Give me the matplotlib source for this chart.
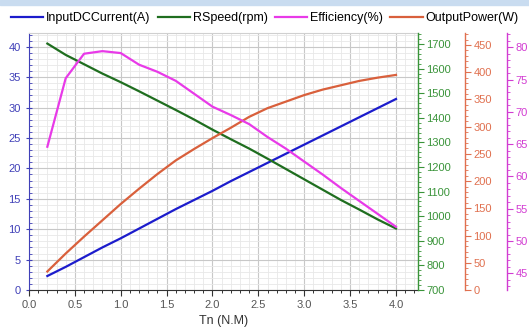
import numpy as np
import matplotlib
matplotlib.use("Agg")
import matplotlib.pyplot as plt
from matplotlib.ticker import MultipleLocator, FormatStrFormatter
from matplotlib.patches import Rectangle

plt.rcParams['font.family'] = ['Liberation Sans', 'DejaVu Sans']

# data
torque = [0.2, 0.4, 0.6, 0.8, 1.0, 1.2, 1.4, 1.6, 1.8, 2.0,
          2.2, 2.4, 2.6, 2.8, 3.0, 3.2, 3.4, 3.6, 3.8, 4.0]
current = [2.3, 3.8, 5.4, 7.0, 8.5, 10.1, 11.7, 13.3, 14.8, 16.3,
           17.9, 19.4, 20.9, 22.4, 23.9, 25.4, 26.9, 28.4, 29.9, 31.4]
speed = [1702, 1656, 1618, 1580, 1545, 1508, 1470, 1432, 1393, 1352,
         1313, 1275, 1234, 1192, 1150, 1108, 1066, 1027, 987, 950]
efficiency = [64.6, 75.2, 79.0, 79.4, 79.1, 77.3, 76.2, 74.8, 72.8, 70.8,
              69.5, 68.1, 66.1, 64.3, 62.3, 60.3, 58.2, 56.2, 54.2, 52.2]
power = [34, 67, 98, 128, 158, 186, 213, 238, 259, 279,
         298, 318, 334, 346, 358, 368, 376, 384, 390, 395]

c_blue, c_green, c_mag, c_orange = '#1c1ccc', '#1f6e1f', '#e83ae8', '#d9603c'
t_blue, t_green, t_mag, t_orange = '#4040b8', '#3a943a', '#d23cd2', '#e0704f'

fig = plt.figure(figsize=(5.29, 3.29), dpi=100)
fig.patches.append(Rectangle((0, 1 - 5 / 329), 1, 5 / 329, transform=fig.transFigure,
                             color='#c9dcf0', zorder=0))
ax = fig.add_axes([29 / 529, 39 / 329, 389 / 529, 257 / 329])
ax_g = ax.twinx()
ax_o = ax.twinx()
ax_m = ax.twinx()
ax_o.spines['right'].set_position(('axes', 436 / 389))
ax_m.spines['right'].set_position(('axes', 478 / 389))

l1, = ax.plot(torque, current, color=c_blue, lw=1.6, label='InputDCCurrent(A)')
l2, = ax_g.plot(torque, speed, color=c_green, lw=1.6, label='RSpeed(rpm)')
l3, = ax_m.plot(torque, efficiency, color=c_mag, lw=1.6, label='Efficiency(%)')
l4, = ax_o.plot(torque, power, color=c_orange, lw=1.6, label='OutputPower(W)')

ax.set_xlim(0, 4.24)
ax.set_ylim(0, 42.25)
ax_g.set_ylim(700, 1745)
ax_o.set_ylim(0, 472)
ax_m.set_ylim(42.41, 82.21)

# grid
ax.xaxis.set_major_locator(MultipleLocator(0.5))
ax.xaxis.set_minor_locator(MultipleLocator(0.1))
ax.xaxis.set_major_formatter(FormatStrFormatter('%.1f'))
ax.yaxis.set_major_locator(MultipleLocator(5))
ax.yaxis.set_minor_locator(MultipleLocator(1))
ax.grid(which='major', color='#c8c8c8', lw=0.8)
ax.grid(which='minor', color='#e8e8e8', lw=0.6)
ax.set_axisbelow(True)

for a in (ax_g, ax_o, ax_m):
    a.spines['left'].set_visible(False)
    a.spines['top'].set_visible(False)
    a.spines['bottom'].set_visible(False)
ax.spines['top'].set_color('#d0d0d0')
ax.spines['right'].set_visible(False)
ax.spines['left'].set_color(t_blue)
ax.spines['bottom'].set_color('#333333')

ax.tick_params(axis='x', which='major', length=4, width=0.8, colors='#333333',
               labelcolor='#555555', labelsize=8)
ax.tick_params(axis='x', which='minor', length=2.5, width=0.7, colors='#333333')
ax.tick_params(axis='y', which='major', direction='inout', length=5, colors=t_blue,
               labelsize=8)
ax.tick_params(axis='y', which='minor', direction='in', length=2.5, colors=t_blue)

ax_g.yaxis.set_major_locator(MultipleLocator(100))
ax_g.yaxis.set_minor_locator(MultipleLocator(20))
ax_o.yaxis.set_major_locator(MultipleLocator(50))
ax_o.yaxis.set_minor_locator(MultipleLocator(10))
ax_m.yaxis.set_major_locator(MultipleLocator(5))
ax_m.yaxis.set_minor_locator(MultipleLocator(1))

for a, col in ((ax_g, t_green), (ax_o, t_orange), (ax_m, t_mag)):
    a.spines['right'].set_color(col)
    a.spines['right'].set_linewidth(1.0)
    a.tick_params(axis='y', which='major', length=4, colors=col, labelsize=8, pad=2)
    a.tick_params(axis='y', which='minor', length=2.5, colors=col)

ax.set_xlabel('Tn (N.M)', fontsize=9, color='#333333', labelpad=3)

fig.legend(handles=[l1, l2, l3, l4], loc='center', bbox_to_anchor=(0.5, 1 - 18 / 329),
           ncol=4, frameon=False, fontsize=9, handlelength=2.6, handletextpad=0.2,
           columnspacing=0.6, borderaxespad=0)

fig.savefig('out.png', dpi=100)
